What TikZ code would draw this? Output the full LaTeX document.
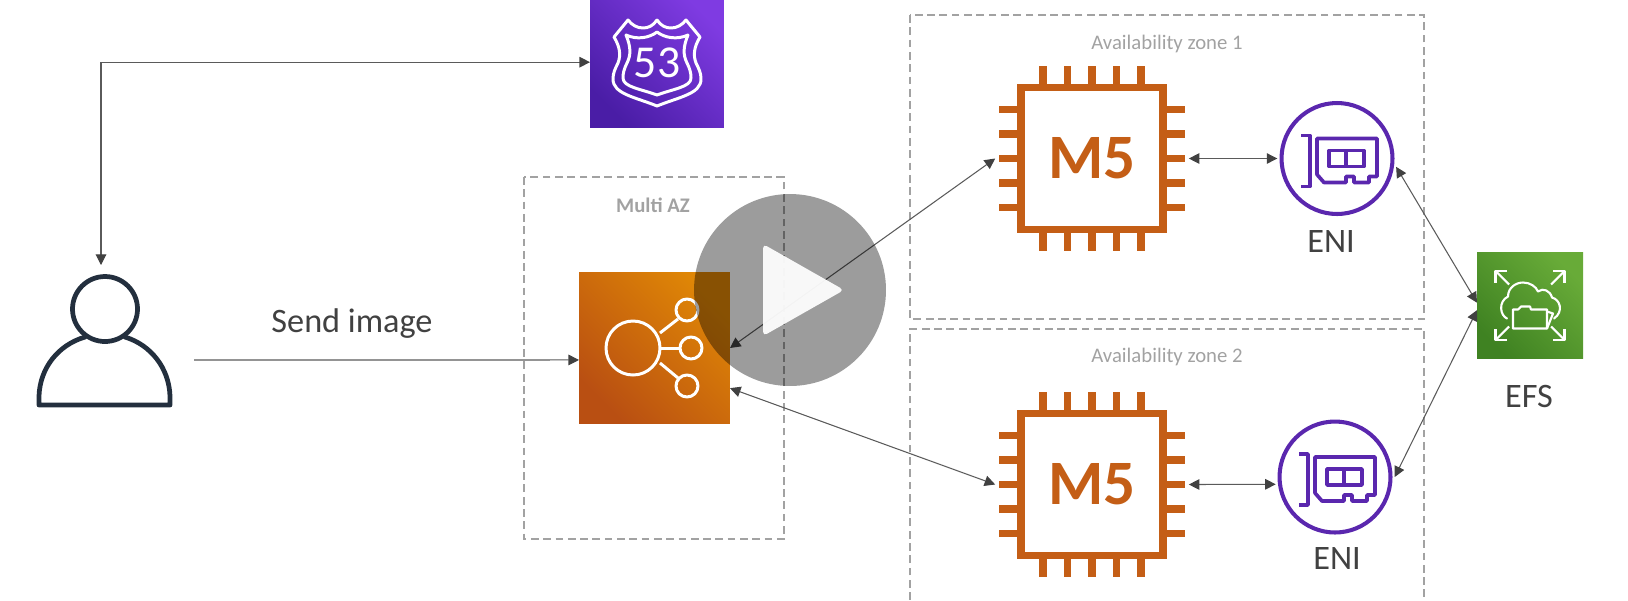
\documentclass[tikz,border=0pt]{standalone}
\usepackage{fontspec}
\setmainfont{Carlito}
\usetikzlibrary{calc}
\usetikzlibrary{arrows.meta}
\definecolor{chipcol}{HTML}{C45E16}
\definecolor{enicol}{HTML}{5A27AE}
\definecolor{inkcol}{HTML}{414141}
\definecolor{linkcol}{HTML}{5A5A5A}
\definecolor{usercol}{HTML}{232F3E}
\definecolor{zonecol}{HTML}{A2A2A2}
\definecolor{routetop}{HTML}{7F3BE2}
\definecolor{routelow}{HTML}{4A1DA6}
\definecolor{elbtop}{HTML}{DF8606}
\definecolor{elblow}{HTML}{B94F12}
\definecolor{efstop}{HTML}{68AB38}
\definecolor{efslow}{HTML}{3F8222}
\tikzset{
  tile/.style n args={3}{rectangle,inner sep=0,outer sep=0,minimum size=#1cm,top color=#2,bottom color=#3,shading angle=-45},
  chipbox/.style={rectangle,draw=chipcol,line width=4.5pt,inner sep=0,minimum size=2.84cm,outer sep=14.7pt,text=chipcol,font=\fontsize{36}{40}\selectfont\bfseries},
  enibox/.style={circle,draw=enicol,line width=2.3pt,inner sep=0,minimum size=2.22cm,outer sep=2.4pt},
  link/.style={draw=linkcol,line width=.6pt,{Triangle[length=6pt,width=6pt,color=inkcol]}-{Triangle[length=6pt,width=6pt,color=inkcol]}},
  sendlink/.style={draw=linkcol,line width=.6pt,-{Triangle[length=6pt,width=6pt,color=inkcol]}},
  zonebox/.style={draw=zonecol,line width=.8pt,dash pattern=on 4.4pt off 2.6pt},
  zonetext/.style={text=zonecol,font=\fontsize{11.8}{13}\selectfont},
  iconlabel/.style={text=inkcol,font=\fontsize{19.5}{22}\selectfont},
  whiteline/.style={draw=white,line width=1.7pt,line join=round,line cap=round},
}

\begin{document}
\begin{tikzpicture}[x=0.02cm,y=-0.02cm]
\useasboundingbox (0,0) rectangle (1628,600);

\coordinate (usertop) at (101,265);
\coordinate (userright) at (194,360);

% zones
\draw[zonebox] (524,177) rectangle (784,539);
\draw[zonebox] (910,15) rectangle (1424,319);
\draw[zonebox] (910,600) |- (1424,329) -- (1424,600);
\node[zonetext,font=\fontsize{11.8}{13}\selectfont\bfseries] (multiaz) at (653,205) {Multi AZ};
\node[zonetext] (zonelabela) at (1167,44) {Availability zone 1};
\node[zonetext] (zonelabelb) at (1167,357) {Availability zone 2};

% user
\node[inner sep=0,minimum width=2.7cm,minimum height=2.9cm] (user) at (105,335) {};
\draw[usercol,line width=2.7pt,line join=round,line cap=round] (85,337) .. controls (58,345) and (40,368) .. (39,396) -- (39,405) -- (170,405) -- (170,396) .. controls (169,368) and (151,345) .. (125,337);
\draw[usercol,line width=2.7pt] (105,309) circle[radius=32.5];
\node[iconlabel] (sendlabel) at (352,323.5) {Send image};

% tiles
\node[tile={2.68}{routetop}{routelow}] (route) at (657,61) {};
\node[tile={3.02}{elbtop}{elblow}] (elb) at (654.5,348) {};
\node[tile={2.12}{efstop}{efslow}] (efs) at (1530,305.5) {};
\node[iconlabel] (efslabel) at (1529,396) {EFS};

% shield
\begin{scope}[shift={(657,63)}]
\foreach \sx in {1,-1} {
\begin{scope}[xscale=\sx]
\draw[whiteline] (0,-43) .. controls (-4,-37) and (-9,-35) .. (-14,-35) .. controls (-20,-35) and (-25,-38) .. (-29,-43) -- (-43,-26) .. controls (-37,-16) and (-36,-8) .. (-39,0) .. controls (-42,6) and (-44,10) .. (-44,16) .. controls (-44,31) and (-22,34) .. (0,43);
\draw[whiteline] (0,-31) .. controls (-8,-25) and (-20,-23) .. (-31,-28) .. controls (-26,-16) and (-26,-8) .. (-30,0) .. controls (-33,6) and (-34,10) .. (-34,15) .. controls (-34,24) and (-16,26) .. (0,32);
\end{scope}
}
\end{scope}
\node[text=white,inner sep=0,font=\fontsize{26}{28}\selectfont] (routetext) at (657,63) {53};

% elb icon
\draw[whiteline] (633,348) circle[radius=27];
\draw[whiteline] (687,310) circle[radius=11];
\draw[whiteline] (691,348) circle[radius=11];
\draw[whiteline] (687,386) circle[radius=11];
\draw[whiteline,line cap=butt] (660,333) -- (678,319);
\draw[whiteline,line cap=butt] (660,348) -- (680,348);
\draw[whiteline,line cap=butt] (660,363) -- (678,378);

% efs icon
\begin{scope}[shift={(efs)}]
\foreach \sx/\sy in {1/1,1/-1,-1/1,-1/-1} {
\draw[whiteline,line width=1.2pt,line cap=butt,xscale=\sx,yscale=\sy] (21,21) -- (34.5,34.5);
\draw[whiteline,line width=1.2pt,line cap=butt,xscale=\sx,yscale=\sy] (23,34.5) -- (34.5,34.5) -- (34.5,23);
}
\draw[whiteline,line width=1.2pt] (-23,13) .. controls (-30,10) and (-32,-4) .. (-22,-9) .. controls (-22,-18) and (-14,-23) .. (-7,-23) .. controls (0,-23) and (6,-19) .. (8,-14) .. controls (13,-18) and (20,-15) .. (22,-8) .. controls (30,-6) and (34,6) .. (24,13);
\draw[whiteline,line width=1.2pt] (-17,23) -- (-17,4) -- (-12,4) -- (-9,1) -- (0,1) -- (1,4) -- (17,4) -- (17,23) -- cycle;
\draw[whiteline,line width=1.2pt] (17,6) -- (23,8) -- (17,23);
\end{scope}

% instances
\node[chipbox] (chipa) at (1092,158.5) {M5};
\node[chipbox] (chipb) at (1092,484.5) {M5};
\foreach \chip in {chipa,chipb} {
\begin{scope}[shift={(\chip)}]
\foreach \d in {-49,-24.5,0,24.5,49} {
\draw[chipcol,line width=4.5pt] (\d,-71) -- (\d,-92.5);
\draw[chipcol,line width=4.5pt] (\d,71) -- (\d,92.5);
\draw[chipcol,line width=4.5pt] (-71,\d) -- (-93,\d);
\draw[chipcol,line width=4.5pt] (71,\d) -- (93,\d);
}
\end{scope}
}

% eni
\node[enibox] (enia) at (1337,158.5) {};
\node[enibox] (enib) at (1335,477) {};
\foreach \eni in {enia,enib} {
\begin{scope}[shift={(\eni)},enicol,line width=2.1pt,line join=round]
\draw (-36,-23) -- (-27,-23) -- (-27,28) -- (-36,28);
\draw (-20,-20) -- (40,-20) -- (40,18) -- (32,18) -- (32,24) -- (17,24) -- (17,18) -- (9,18) -- (9,24) -- (-13,24) -- (-20,16) -- cycle;
\draw (-8,-8) rectangle (27,8);
\draw (9,-8) -- (9,8);
\end{scope}
}
\node[iconlabel] (enilabela) at (1331,241) {ENI};
\node[iconlabel] (enilabelb) at (1337,558) {ENI};

% connectors
\draw[link] (route.181) -| (usertop);
\draw[sendlink] (userright) -- (elb.189);
\draw[link] (elb.east) -- (chipa.west);
\draw[link] (elb.-28) -- (chipb.west);
\draw[link] (chipa.east) -- (enia.west);
\draw[link] (chipb.east) -- (enib.187.2);
\draw[link] (enia.-8) -- (efs.177);
\draw[link] (enib.east) -- (efs.185);

% play button
\node[circle,fill=black,fill opacity=.39,inner sep=0,minimum size=3.84cm] (play) at (790,290) {};
\fill[white,fill opacity=.94,rounded corners=2.5pt] (763,244) -- (844,290) -- (763,336) -- cycle;

\end{tikzpicture}
\end{document}
